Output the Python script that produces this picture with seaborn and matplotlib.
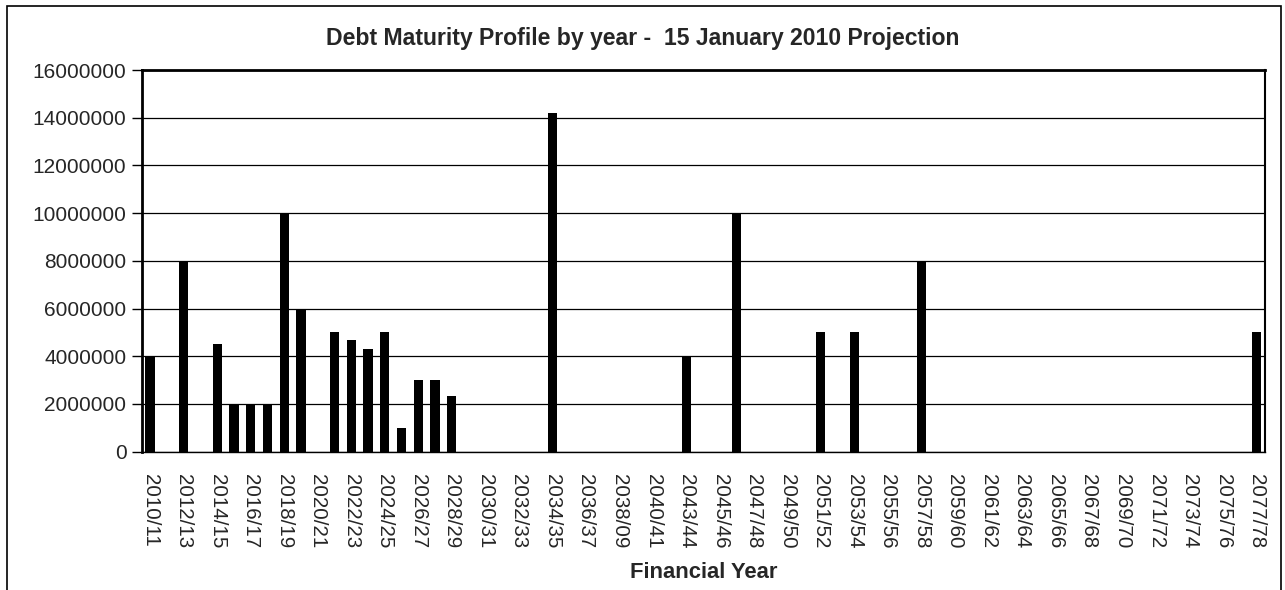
import numpy as np
import pandas as pd
import matplotlib
matplotlib.use("Agg")
import matplotlib.pyplot as plt
import seaborn as sns
from matplotlib.patches import Rectangle

# ---- data ----
years_part1 = [f"{y}/{(y + 1) % 100:02d}" for y in range(2010, 2041)]
years_part1[28] = "2038/09"  # label as printed in the original chart
years_part2 = ["2041/42"]
years_part3 = [f"{y}/{(y + 1) % 100:02d}" for y in range(2043, 2078)]
categories = years_part1 + years_part2 + years_part3

maturity_values = {
    "2010/11": 4000000, "2012/13": 8000000, "2014/15": 4500000,
    "2015/16": 2000000, "2016/17": 2000000, "2017/18": 2000000,
    "2018/19": 10000000, "2019/20": 6000000, "2021/22": 5000000,
    "2022/23": 4700000, "2023/24": 4300000, "2024/25": 5000000,
    "2025/26": 1000000, "2026/27": 3000000, "2027/28": 3000000,
    "2028/29": 2350000, "2034/35": 14200000, "2043/44": 4000000,
    "2046/47": 10000000, "2051/52": 5000000, "2053/54": 5000000,
    "2057/58": 8000000, "2077/78": 5000000,
}
values = [maturity_values.get(c, 0) for c in categories]
y_ticks = [0, 2000000, 4000000, 6000000, 8000000, 10000000, 12000000, 14000000, 16000000]

title_text = "Debt Maturity Profile by year -  15 January 2010 Projection"
x_label = "Financial Year"

# ---- plot ----
sns.set_style("white")
plt.rcParams["font.family"] = ["Liberation Sans", "DejaVu Sans"]

W, H = 1285, 590
fig = plt.figure(figsize=(W / 100, H / 100), dpi=100)
left, right, top, bottom = 141.7, 1265, 70, 451.7
ax = fig.add_axes([left / W, 1 - bottom / H, (right - left) / W, (bottom - top) / H])

df = pd.DataFrame({"year": categories, "amount": values})
sns.barplot(data=df, x="year", y="amount", order=categories, color="black",
            width=0.55, saturation=1, ax=ax, edgecolor="black", linewidth=0)

n = len(categories)
ax.set_xlim(-0.5, n - 0.5)
ax.set_ylim(0, 16000000)
ax.set_yticks(y_ticks)
ax.set_yticklabels([str(v) for v in y_ticks], fontsize=15)
ax.yaxis.grid(True, color="black", linewidth=0.9)
ax.set_axisbelow(True)

major = list(range(0, n, 2))
ax.set_xticks(major)
ax.set_xticklabels([categories[i] for i in major], rotation=270, fontsize=14.8,
                   va="top", ha="center")
ax.set_xticks(np.arange(-0.5, n, 1.0), minor=True)
ax.tick_params(axis="x", which="major", length=0, pad=16)
ax.tick_params(axis="x", which="minor", length=6, width=1, color="black", direction="out")
ax.tick_params(axis="y", which="major", length=7, width=1, color="black",
               direction="out", left=True, pad=4)

for side in ["left", "top", "right", "bottom"]:
    ax.spines[side].set_visible(True)
    ax.spines[side].set_color("black")
ax.spines["left"].set_linewidth(2)
ax.spines["top"].set_linewidth(2)
ax.spines["right"].set_linewidth(1.5)
ax.spines["bottom"].set_linewidth(1)

ax.set_xlabel("")
ax.set_ylabel("")

fig.text(0.5, 1 - 39 / H, title_text, ha="center", va="center",
         fontsize=16.6, fontweight="bold")
fig.text(704 / W, 1 - 573 / H, x_label, ha="center", va="center",
         fontsize=15.8, fontweight="bold")

fig.patches.append(Rectangle((7 / W, -0.1), (1281 - 7) / W, 1 - 6 / H + 0.1,
                             transform=fig.transFigure, fill=False,
                             edgecolor="black", linewidth=1.2))

fig.savefig("out.png", dpi=100)
